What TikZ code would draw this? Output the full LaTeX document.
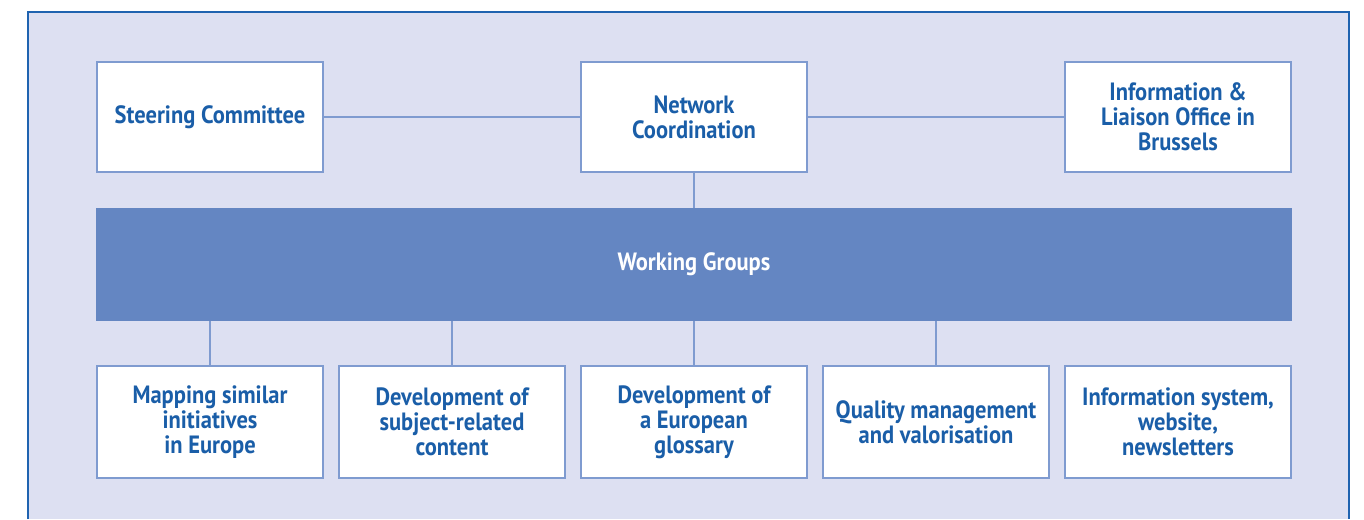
\documentclass[tikz,border=0pt]{standalone}
\usepackage{fontspec}
\usepackage{tikz}
\usetikzlibrary{positioning}
\newfontfamily\orgfont{PT Sans}[FakeStretch=0.9]
\definecolor{panelbg}{HTML}{DDE0F2}
\definecolor{framecol}{HTML}{1F63B0}
\definecolor{linecol}{HTML}{7F9BD0}
\definecolor{barcol}{HTML}{6486C2}
\definecolor{textcol}{HTML}{1A5EA8}
\newcommand{\orgtext}{\orgfont\bfseries\fontsize{12.5pt}{12.5pt}\selectfont}

\begin{document}
\begin{tikzpicture}[
    x=0.5pt, y=-0.5pt,
    box/.style={draw=linecol, line width=0.75pt, fill=white, text=textcol,
        minimum width=113pt, minimum height=55pt, inner sep=0pt, outer sep=0pt,
        align=center, font=\orgtext},
    wgbar/.style={fill=barcol, text=white, minimum width=598pt,
        minimum height=56.5pt, inner sep=0pt, outer sep=0pt, font=\orgtext},
    link/.style={draw=linecol, line width=0.75pt},
]
\useasboundingbox (0,0) rectangle (1364,519);
% panel
\fill[panelbg] (28,12) rectangle (1349,519);
\draw[framecol, line width=1.2pt] (28,519) -- (28,12) -- (1349,12) -- (1349,519);
% top row
\node[box] (steer) at (210,117) {Steering Committee};
\node[box, right=129pt of steer] (netco) {Network\\Coordination};
\node[box, right=129pt of netco] (office) {Information \&\\Liaison Office in\\Brussels};
% working groups
\node[wgbar] (wg) at (694,264.5) {Working Groups};
% bottom row
\node[box, minimum height=56pt] (mapping) at (210,422) {Mapping similar\\initiatives\\in Europe};
\node[box, minimum height=56pt, right=8pt of mapping] (content) {Development of\\subject-related\\content};
\node[box, minimum height=56pt, right=8pt of content] (glossary) {Development of\\a European\\glossary};
\node[box, minimum height=56pt, right=8pt of glossary] (quality) {Quality management\\and valorisation};
\node[box, minimum height=56pt, right=8pt of quality] (infosys) {Information system,\\website,\\newsletters};
% links
\draw[link] (steer) -- (netco);
\draw[link] (netco) -- (office);
\draw[link] (netco.south) -- (netco.south |- wg.north);
\foreach \grp in {mapping,content,glossary,quality}
    \draw[link] (\grp.north) -- (\grp.north |- wg.south);
\end{tikzpicture}
\end{document}
